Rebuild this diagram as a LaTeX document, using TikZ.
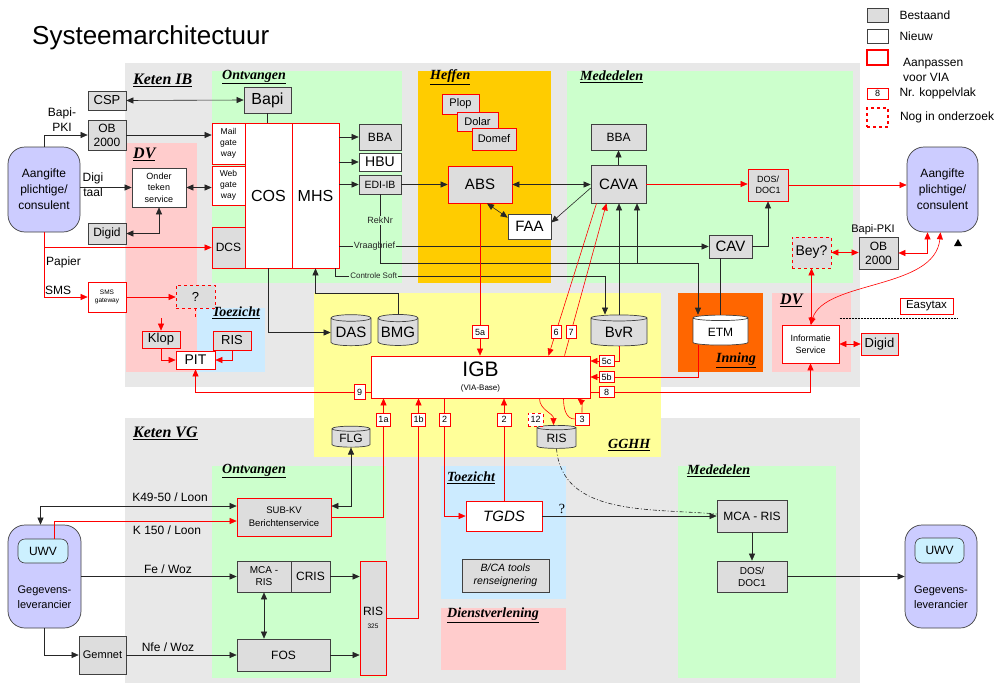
\documentclass[tikz,border=0pt]{standalone}
\usepackage{fontspec}
\setmainfont{Liberation Sans}
\newfontfamily\sectfont{Liberation Serif}
\usetikzlibrary{arrows.meta,positioning,shapes.geometric}

\definecolor{boxgrey}{HTML}{DDDDDD}
\definecolor{ketengrey}{HTML}{E8E8E8}
\definecolor{ontvgreen}{HTML}{CCFFCC}
\definecolor{heffenorange}{HTML}{FFCC00}
\definecolor{gghhyellow}{HTML}{FFFF99}
\definecolor{dvpink}{HTML}{FFCCCC}
\definecolor{toezblue}{HTML}{CCEBFF}
\definecolor{inningorange}{HTML}{FF6600}
\definecolor{partijblue}{HTML}{CCCCFF}
\definecolor{uwvblue}{HTML}{CCF0FF}

\newcommand{\fsz}[2]{\fontsize{#1}{#2}\selectfont}

\begin{document}
\begin{tikzpicture}[x=1pt, y=-1pt,
    font=\fsz{12}{14},
    sz/.style 2 args={minimum width=#1pt, minimum height=#2pt},
    bestaand/.style={draw=black!75, fill=boxgrey, inner sep=1pt, align=center, line width=0.7pt},
    nieuw/.style={draw=black!75, fill=white, inner sep=1pt, align=center, line width=0.7pt},
    aanp/.style={draw=red, fill=boxgrey, inner sep=1pt, align=center, line width=0.7pt},
    aanpw/.style={draw=red, fill=white, inner sep=1pt, align=center, line width=0.7pt},
    onderz/.style={aanp, dashed},
    num/.style={draw=red, fill=white, inner sep=0.5pt, font=\fsz{9}{10}, line width=0.6pt},
    db/.style={cylinder, shape border rotate=90, aspect=0.2, draw=black!75, fill=boxgrey,
      inner sep=1pt, line width=0.7pt},
    partij/.style={draw=black!75, fill=partijblue, rounded corners=17pt, align=center, line width=0.7pt},
    uwv/.style={draw=black!75, fill=uwvblue, rounded corners=7pt, line width=0.6pt},
    sect/.style={font=\sectfont\bfseries\itshape\fsz{14}{14}, anchor=west, inner sep=0pt},
    sectbig/.style={sect, font=\sectfont\bfseries\itshape\fsz{16}{16}},
    lbl/.style={font=\fsz{9}{10}, inner sep=1pt, align=center},
    lgtxt/.style={font=\fsz{12}{15}, inner sep=1pt, align=left},
    arr/.style={-{Triangle[length=7pt,width=6pt]}, black!85, line width=0.6pt},
    darr/.style={{Triangle[length=7pt,width=6pt]}-{Triangle[length=7pt,width=6pt]}, black!85, line width=0.6pt},
    rarr/.style={arr, red},
    rdarr/.style={darr, red},
    rline/.style={red, line width=0.6pt},
    bline/.style={black!85, line width=0.6pt}
  ]
  \useasboundingbox (0,0) rectangle (998,685);
  \fill[white] (0,0) rectangle (998,685);

  % gebieden
  \fill[ketengrey] (125,63) rectangle (860,387);
  \fill[ketengrey] (125,418) rectangle (860,683);
  \fill[ontvgreen] (212,71) rectangle (402,283);
  \fill[heffenorange] (418,71) rectangle (551,283);
  \fill[ontvgreen] (567,71) rectangle (853,283);
  \fill[dvpink] (126,143) rectangle (197,372);
  \fill[toezblue] (197,308) rectangle (265,372);
  \fill[gghhyellow] (314,293) rectangle (661,457);
  \fill[inningorange] (678,293) rectangle (763,372);
  \fill[dvpink] (772,293) rectangle (851,372);
  \fill[ontvgreen] (212,466) rectangle (386,678);
  \fill[toezblue] (441,466) rectangle (566,599);
  \fill[dvpink] (441,608) rectangle (566,670);
  \fill[ontvgreen] (678,466) rectangle (836,678);

  \node[anchor=west, inner sep=0pt, font=\fsz{26}{28}] (titel) at (32,38) {Systeemarchitectuur};

  % legenda
  \node[bestaand, sz={21}{14}] (lgBest) at (877.5,15) {};
  \node[lgtxt, right=10pt of lgBest] (lgBestT) {Bestaand};
  \node[nieuw, sz={21}{14}] (lgNieuw) at (877.5,36) {};
  \node[lgtxt, right=10pt of lgNieuw] (lgNieuwT) {Nieuw};
  \node[draw=red, line width=1.6pt, sz={21}{15}] (lgAanp) at (877.5,57.5) {};
  \node[lgtxt, anchor=west] (lgAanpT) at (902,70) {Aanpassen\\voor VIA};
  \node[num, sz={21}{11}] (lgNum) at (877.5,93.5) {8};
  \node[lgtxt, right=10pt of lgNum] (lgNumT) {Nr. koppelvlak};
  \node[draw=red, dashed, line width=1.6pt, sz={21}{19}] (lgOnd) at (877.5,117.5) {};
  \node[lgtxt, right=10pt of lgOnd] (lgOndT) {Nog in onderzoek};

  % sectienamen
  \node[sectbig] (tKetenIB) at (133,80) {\underline{Keten IB}};
  \node[sect] (tOntvIB) at (222,77) {\underline{Ontvangen}};
  \node[sect] (tHeffen) at (430,77) {\underline{Heffen}};
  \node[sect] (tMedIB) at (580,77) {\underline{Mededelen}};
  \node[sectbig] (tDVL) at (133,154) {\underline{DV}};
  \node[sect] (tToezIB) at (212,313) {\underline{Toezicht}};
  \node[sect] (tInning) at (716,360) {\underline{Inning}};
  \node[sectbig] (tDVR) at (780,300) {\underline{DV}};
  \node[sect] (tGGHH) at (608,445) {\underline{GGHH}};
  \node[sectbig] (tKetenVG) at (133,433) {\underline{Keten VG}};
  \node[sect] (tOntvVG) at (222,471) {\underline{Ontvangen}};
  \node[sect] (tToezVG) at (447,478) {\underline{Toezicht}};
  \node[sect] (tDienst) at (447,615) {\underline{Dienstverlening}};
  \node[sect] (tMedVG) at (687,471) {\underline{Mededelen}};

  % Keten IB links
  \node[partij, sz={72}{85}, font=\fsz{12}{16}] (aangL) at (44,189.5) {Aangifte\\plichtige/\\consulent};
  \node[bestaand, sz={38}{19}, font=\fsz{13}{14}] (csp) at (107,100.5) {CSP};
  \node[bestaand, sz={38}{30}, font=\fsz{12}{14}] (ob2kL) at (107,135) {OB\\2000};
  \node[bestaand, sz={47}{26}, font=\fsz{16}{16}] (bapi) at (267.5,100) {Bapi};
  \node[aanpw, sz={33}{41}, font=\fsz{8.5}{11}] (mailgw) at (228.5,143.5) {Mail\\gate\\way};
  \node[aanpw, sz={33}{39}, font=\fsz{8.5}{11}] (webgw) at (228.5,185.5) {Web\\gate\\way};
  \node[aanpw, sz={47}{145}, font=\fsz{16}{16}] (cos) at (268.5,195.5) {COS};
  \node[aanpw, sz={47}{145}, font=\fsz{16}{16}] (mhs) at (315.5,195.5) {MHS};
  \node[aanp, sz={33}{41}, font=\fsz{12}{14}] (dcs) at (228.5,247.5) {DCS};
  \node[nieuw, sz={54}{39}, font=\fsz{9}{11.5}] (ondertk) at (159,187.5) {Onder\\teken\\service};
  \node[bestaand, sz={38}{21}, font=\fsz{12}{14}] (digidL) at (107,233.5) {Digid};
  \node[aanpw, sz={38}{30}, font=\fsz{6.5}{8}] (smsgw) at (107,297) {SMS\\gateway};
  \node[onderz, sz={39}{23}, font=\fsz{13}{14}] (qbox) at (195.5,296.5) {?};
  \node[aanp, sz={38}{17}, font=\fsz{13}{14}] (klop) at (161,339.5) {Klop};
  \node[aanp, sz={38}{19}, font=\fsz{13}{14}] (risT) at (232,340.5) {RIS};
  \node[aanpw, sz={39}{18}, font=\fsz{14}{14}] (pit) at (195.5,360) {PIT};
  \node[lbl, font=\fsz{12}{15}] (bapipkiL) at (62,120) {Bapi-\\PKI};
  \node[lbl, font=\fsz{12}{15}] (digitaal) at (93,185) {Digi\\taal};
  \node[lbl, font=\fsz{12}{14}, anchor=west] (papier) at (45,262) {Papier};
  \node[lbl, font=\fsz{12}{14}, anchor=west] (sms) at (44,290) {SMS};

  % Keten IB midden
  \node[bestaand, sz={42}{26}, font=\fsz{12}{14}] (bbaL) at (380,137) {BBA};
  \node[nieuw, sz={42}{18}, font=\fsz{14}{14}] (hbu) at (380,162) {HBU};
  \node[bestaand, sz={42}{19}, font=\fsz{10.5}{12}] (ediib) at (380,184.5) {EDI-IB};
  \node[aanp, sz={37}{20}, font=\fsz{11}{12}] (plop) at (460.5,104) {Plop};
  \node[aanp, sz={41}{19}, font=\fsz{11}{12}] (dolar) at (477.5,121.5) {Dolar};
  \node[aanp, sz={44}{22}, font=\fsz{11}{12}] (domef) at (494,139) {Domef};
  \node[aanp, sz={64}{37}, font=\fsz{15}{16}] (abs) at (480,184.5) {ABS};
  \node[nieuw, sz={43}{25}, font=\fsz{15}{16}] (faa) at (529.5,226.5) {FAA};
  \node[bestaand, sz={55}{38}, font=\fsz{15}{16}] (cava) at (618.5,184) {CAVA};
  \node[bestaand, sz={55}{26}, font=\fsz{12}{14}] (bbaM) at (618.5,137) {BBA};
  \node[aanp, sz={40}{32}, font=\fsz{9}{10.5}] (dosIB) at (768,185) {DOS/\\DOC1};
  \node[bestaand, sz={43}{23}, font=\fsz{15}{16}] (cav) at (730.5,246.5) {CAV};
  \node[partij, sz={71}{85}, font=\fsz{12}{16}] (aangR) at (942.5,189.5) {Aangifte\\plichtige/\\consulent};

  \node[db, sz={40}{31}, font=\fsz{15}{16}] (das) at (351,332.5) {DAS};
  \node[db, sz={40}{31}, font=\fsz{15}{16}] (bmg) at (398,332.5) {BMG};
  \node[db, sz={56}{31}, font=\fsz{15}{16}] (bvr) at (619,332.5) {BvR};
  \node[db, fill=white, sz={55}{30}, font=\fsz{12}{14}] (etm) at (720.5,332) {ETM};
  \node[db, sz={38}{21}, font=\fsz{12}{13}] (flg) at (351,438.5) {FLG};
  \node[db, sz={39}{23}, font=\fsz{12}{13}] (risC) at (556.5,438.5) {RIS};
  \node[aanpw, sz={219}{42}] (igb) at (480.5,377) {{\fsz{21}{21}IGB}\\{\fsz{8}{9}(VIA-Base)}};

  % Keten IB rechts
  \node[onderz, sz={39}{31}, font=\fsz{14}{14}] (bey) at (811.5,252.5) {Bey?};
  \node[bestaand, sz={39}{32}, font=\fsz{12}{14}] (ob2kR) at (878.5,253) {OB\\2000};
  \node[lbl, font=\fsz{11}{12}] (bapipkiR) at (873,230) {Bapi-PKI};
  \node[aanpw, sz={57}{38}, font=\fsz{9}{12}] (info) at (810.5,344) {Informatie\\Service};
  \node[aanp, sz={37}{22}, font=\fsz{13}{14}] (digidR) at (879.5,344) {Digid};
  \node[aanpw, sz={53}{16}, font=\fsz{11.5}{12}] (easytax) at (926.5,306) {Easytax};
  \fill[black] (954,246) -- (962,246) -- (958,239) -- cycle;

  % Keten VG
  \node[partij, sz={73}{103}] (gegL) at (44.5,576.5) {};
  \node[uwv, sz={50}{24}, font=\fsz{12}{13}] (uwvL) at (43,551) {UWV};
  \node[lbl, font=\fsz{11}{15}] (gegLtxt) at (44.5,597) {Gegevens-\\leverancier};
  \node[partij, sz={72}{103}] (gegR) at (941,576.5) {};
  \node[uwv, sz={49}{25}, font=\fsz{12}{13}] (uwvR) at (939.5,550.5) {UWV};
  \node[lbl, font=\fsz{11}{15}] (gegRtxt) at (941,597) {Gegevens-\\leverancier};
  \node[aanp, sz={94}{38}, font=\fsz{9.5}{13}] (subkv) at (284,517) {SUB-KV\\Berichtenservice};
  \node[bestaand, sz={54}{31}, font=\fsz{10}{12}] (mcaris) at (264,576.5) {MCA -\\RIS};
  \node[bestaand, sz={39}{31}, font=\fsz{12}{13}] (cris) at (310.5,576.5) {CRIS};
  \node[aanp, sz={26}{114}, font=\fsz{12}{13}] (ris325) at (373,618) {RIS\\{\fsz{6.5}{7}325}};
  \node[bestaand, sz={93}{32}, font=\fsz{12}{13}] (fos) at (283.5,655) {FOS};
  \node[bestaand, sz={47}{38}, font=\fsz{11}{12}] (gemnet) at (102.5,655) {Gemnet};
  \node[aanpw, sz={76}{30}, font=\itshape\fsz{15}{16}] (tgds) at (504,516) {TGDS};
  \node[bestaand, sz={87}{33}, font=\itshape\fsz{10.5}{13}] (bca) at (505.5,575.5) {B/CA tools\\renseignering};
  \node[bestaand, sz={70}{32}, font=\fsz{12}{13}] (mcarisM) at (752,516) {MCA - RIS};
  \node[bestaand, sz={70}{31}, font=\fsz{10}{12}] (dosVG) at (752,576.5) {DOS/\\DOC1};
  \node[lbl, font=\fsz{12}{14}] (k4950) at (170,497) {K49-50 / Loon};
  \node[lbl, font=\fsz{12}{14}] (k150) at (167,530) {K 150 / Loon};
  \node[lbl, font=\fsz{12}{14}] (fewoz) at (168,569) {Fe / Woz};
  \node[lbl, font=\fsz{12}{14}] (nfewoz) at (168,647) {Nfe / Woz};
  \node[lbl, font=\sectfont\fsz{14}{14}] (vraagteken) at (562,509) {?};

  \coordinate (ctlbend) at (605,276);
  \coordinate (rekbend) at (698,263);
  \coordinate (cavaS) at (637,263);
  \coordinate (mhsin) at (315.5,293);
  \coordinate (qdown) at (195.5,317);
  \coordinate (klopin) at (161,318);

  \node[num, sz={14}{12}] (k3) at (582,419) {3};

  % verbindingen Keten IB
  \draw[darr] (csp.east) -- (bapi.west);
  \draw[bline] (bapi.south) -- (bapi.south |- cos.north);
  \draw[arr] (aangL.north) |- (ob2kL.west);
  \draw[arr] (ob2kL.east) -- (ob2kL.east -| mailgw.west);
  \draw[arr] (aangL.east |- ondertk.west) -- (ondertk.west);
  \draw[darr] (ondertk.east) -- (ondertk.east -| webgw.west);
  \draw[darr] (ondertk.south) |- (digidL.east);
  \draw[rarr] (aangL.south) |- (dcs.west);
  \draw[rarr] (aangL.south) |- (smsgw.west);
  \draw[rarr] (smsgw.east) -- (smsgw.east -| qbox.west);
  \draw[rline, dashed] (qbox.south) -- (qdown);
  \draw[rarr] (klopin) -- (klop.north);
  \draw[rarr] (klop.south) |- (pit.west);
  \draw[rarr] (risT.south) |- (pit.east);
  \draw[rarr] ([yshift=-15pt]igb.west) -| (pit.south);

  \draw[arr] (mhs.east |- bbaL.west) -- (bbaL.west);
  \draw[arr] (mhs.east |- hbu.west) -- (hbu.west);
  \draw[arr] (mhs.east |- ediib.west) -- (ediib.west);
  \draw[arr] (ediib.east) -- (ediib.east -| abs.west);
  \draw[darr] (abs.east) -- (abs.east -| cava.west);
  \draw[arr] (cava.north) -- (bbaM.south);
  \draw[rarr] (cava.east) -- (cava.east -| dosIB.west);
  \draw[rarr] (dosIB.east) -- (dosIB.east -| aangR.west);
  \draw[darr] ([xshift=7pt]abs.south) -- ([yshift=-4pt]faa.north west);
  \draw[arr] ([yshift=-4pt]cava.west) -- ([yshift=4pt]faa.east);
  \draw[arr] (cav.east) -| (dosIB.south);
  \draw[arr] (mhs.east |- cav.west) -- node[lbl, fill=ontvgreen, pos=0.095] {Vraagbrief} (cav.west);
  \draw[arr] ([xshift=-4pt]mhs.south east) |- node[lbl, font=\fsz{8}{9}, fill=ontvgreen, pos=0.571] {Controle Soft} (ctlbend) -- (ctlbend |- bvr.north);
  \draw[arr] (ediib.south) |- node[lbl, fill=ontvgreen, pos=0.19] {RekNr} (rekbend) -- (rekbend |- etm.north);
  \draw[arr] (cavaS) -- (cavaS |- cava.south);
  \draw[arr] (bvr.north) -- (bvr.north |- cava.south);
  \draw[bline] (etm.north) -- (etm.north |- cav.south);
  \draw[arr] (cos.south) |- (das.west);
  \draw[arr] (bmg.north) |- (mhsin) -- (mhs.south);

  % koppelvlakken IGB
  \draw[rarr] (abs.south) -- (abs.south |- igb.north);
  \draw[rarr] ([xshift=-22pt]cava.south) -- ([xshift=68pt]igb.north);
  \draw[rarr] ([xshift=84pt]igb.north) -- ([xshift=-12pt]cava.south);
  \draw[rarr] (bvr.south) |- ([yshift=16pt]igb.east);
  \draw[rarr] ([xshift=-22pt]etm.south) |- (igb.east);
  \draw[rarr] ([yshift=-15pt]igb.east) -| (info.south);
  \draw[rline] ([xshift=83pt]igb.south) to[out=-90,in=180] (k3.west);
  \draw[rarr] (k3.north) to[out=90,in=-40] ([xshift=97pt]igb.south);
  \draw[rarr] ([xshift=59pt]igb.south) to[out=-90,in=90] ([xshift=-3pt]risC.north);
  \draw[rarr] (subkv.east) -| ([xshift=-97pt]igb.south);
  \draw[rarr] (ris325.east) -| ([xshift=-62pt]igb.south);
  \draw[rarr] ([xshift=-36pt]igb.south) |- (tgds.west);
  \draw[rarr] (tgds.north) -- (tgds.north |- igb.south);

  % DV rechts
  \draw[rdarr] (bey.east) -- (bey.east -| ob2kR.west);
  \draw[rdarr] (ob2kR.east) -| ([xshift=-15pt]aangR.south);
  \draw[rdarr] ([xshift=-2pt]aangR.south) .. controls (935,290) and (825,280) .. (info.north);
  \draw[rdarr] (bey.south) -- (bey.south |- info.north);
  \draw[rdarr] (info.east) -- (info.east -| digidR.west);
  \draw[black, dash pattern=on 2pt off 1pt] ([xshift=-60pt,yshift=-4pt]easytax.south west) -- ([xshift=5pt,yshift=-4pt]easytax.south east);

  % verbindingen Keten VG
  \draw[darr] ([yshift=11pt]subkv.west) -| ([xshift=-4pt]gegL.north);
  \draw[rarr] ([xshift=11pt]uwvL.north) |- ([yshift=-4pt]subkv.west);
  \draw[darr] (flg.south) |- ([yshift=11pt]subkv.east);
  \draw[arr] (gegL.east |- mcaris.west) -- (mcaris.west);
  \draw[arr] (cris.east) -- (cris.east -| ris325.west);
  \draw[darr] (mcaris.south) -- (mcaris.south |- fos.north);
  \draw[arr] (fos.east) -- (fos.east -| ris325.west);
  \draw[arr] (gegL.south) |- (gemnet.west);
  \draw[arr] (gemnet.east) -- (gemnet.east -| fos.west);
  \draw[arr] (tgds.east) -- (tgds.east -| mcarisM.west);
  \draw[bline, dash pattern=on 4pt off 2pt on 1pt off 2pt] (risC.south) to[out=-85,in=175] ([yshift=2pt]mcarisM.west);
  \draw[arr] (mcarisM.south) -- (dosVG.north);
  \draw[arr] (dosVG.east) -- (dosVG.east -| gegR.west);

  % nummers koppelvlak
  \node[num, sz={16}{13}] (k5a) at (480,332) {5a};
  \node[num, sz={10}{13}] (k6) at (556,332) {6};
  \node[num, sz={10}{13}] (k7) at (571,332) {7};
  \node[num, sz={15}{11}] (k5c) at (606.5,361) {5c};
  \node[num, sz={15}{11}] (k5b) at (606.5,377) {5b};
  \node[num, sz={15}{11}] (k8) at (606.5,392) {8};
  \node[num, sz={11}{15}] (k9) at (359.5,392) {9};
  \node[num, sz={14}{13}] (k1a) at (383.5,419.5) {1a};
  \node[num, sz={14}{13}] (k1b) at (418.5,419.5) {1b};
  \node[num, sz={11}{13}] (k2a) at (444.5,419.5) {2};
  \node[num, sz={14}{13}] (k2b) at (504,419.5) {2};
  \node[num, dashed, sz={15}{13}] (k12) at (535.5,419.5) {12};
\end{tikzpicture}
\end{document}
